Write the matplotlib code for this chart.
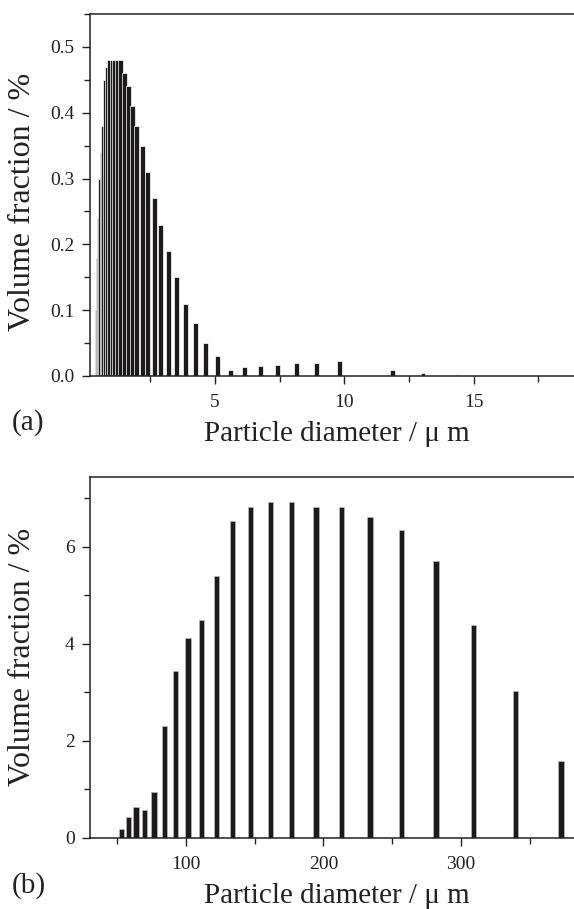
import matplotlib
matplotlib.use('Agg')
import matplotlib.pyplot as plt
from matplotlib.ticker import MultipleLocator, FormatStrFormatter

plt.rcParams['font.family'] = ['Liberation Serif', 'DejaVu Serif']

# (a) fine powder, diameter in um, volume fraction in %
d_a = [0.437, 0.481, 0.528, 0.580, 0.638, 0.701, 0.770, 0.846, 0.930, 1.022,
       1.123, 1.234, 1.356, 1.49, 1.64, 1.81, 1.98, 2.20, 2.40, 2.65,
       2.90, 3.19, 3.50, 3.85, 4.23, 4.64, 5.10, 5.60, 6.15, 6.75,
       7.42, 8.14, 8.94, 9.83, 11.87, 13.04, 14.33]
v_a = [0.10, 0.18, 0.24, 0.30, 0.34, 0.38, 0.45, 0.47, 0.48, 0.48,
       0.48, 0.48, 0.48, 0.46, 0.44, 0.41, 0.38, 0.35, 0.31, 0.27,
       0.23, 0.19, 0.15, 0.11, 0.08, 0.05, 0.03, 0.009, 0.014, 0.015,
       0.016, 0.019, 0.020, 0.023, 0.009, 0.005, 0.002]

# (b) coarse powder
d_b = [53.4, 58.5, 63.9, 70.2, 77.0, 84.5, 92.6, 101.6, 111.3, 122.5,
       134.1, 147.1, 161.4, 177.0, 194.6, 213.3, 233.8, 256.8, 281.8, 309.1,
       339.4, 372.5]
v_b = [0.19, 0.43, 0.64, 0.57, 0.94, 2.30, 3.44, 4.12, 4.50, 5.41,
       6.54, 6.83, 6.92, 6.92, 6.83, 6.83, 6.61, 6.36, 5.71, 4.39,
       3.02, 1.58]

xlabel = 'Particle diameter / \u03bc m'
ylabel = 'Volume fraction / %'

fig = plt.figure(figsize=(5.74, 9.09), dpi=100)
ax1 = fig.add_axes([0.1568, 0.5864, 0.8432, 0.3982])
ax2 = fig.add_axes([0.1568, 0.0784, 0.8432, 0.3972])

barc = '#1c1a1b'
ink = '#222222'
ax1.bar(d_a, v_a, width=0.19, color=barc, edgecolor='white', linewidth=0.5)
ax2.bar(d_b, v_b, width=3.9, color=barc, edgecolor='#bbbbbb', linewidth=0.5)

ax1.set_xlim(0.166, 18.88)
ax1.set_ylim(0, 0.55)
ax1.xaxis.set_major_locator(MultipleLocator(5))
ax1.xaxis.set_minor_locator(MultipleLocator(2.5))
ax1.yaxis.set_major_locator(MultipleLocator(0.1))
ax1.yaxis.set_minor_locator(MultipleLocator(0.05))
ax1.yaxis.set_major_formatter(FormatStrFormatter('%.1f'))

ax2.set_xlim(30.5, 382)
ax2.set_ylim(0, 7.45)
ax2.xaxis.set_major_locator(MultipleLocator(100))
ax2.xaxis.set_minor_locator(MultipleLocator(50))
ax2.yaxis.set_major_locator(MultipleLocator(2))
ax2.yaxis.set_minor_locator(MultipleLocator(1))

for ax in (ax1, ax2):
    ax.spines['right'].set_visible(False)
    for s in ['left', 'bottom', 'top']:
        ax.spines[s].set_linewidth(1.1)
        ax.spines[s].set_color(ink)
    ax.tick_params(which='major', direction='out', length=6, width=1.0,
                   labelsize=14, colors=ink, top=False, right=False)
    ax.tick_params(which='minor', direction='out', length=4, width=1.0,
                   colors=ink, top=False, right=False)
    ax.tick_params(axis='x', which='major', pad=7)
    ax.tick_params(axis='y', which='major', pad=5)
    ax.set_xlabel(xlabel, fontsize=21, color=ink, va='baseline')
    ax.set_ylabel(ylabel, fontsize=23, color=ink)
    ax.xaxis.set_label_coords(0.51, -0.18)

ax1.yaxis.set_label_coords(-0.11, 0.48)
ax2.yaxis.set_label_coords(-0.11, 0.5)

fig.text(0.021, 0.527, '(a)', fontsize=21, color=ink, va='baseline')
fig.text(0.021, 0.018, '(b)', fontsize=21, color=ink, va='baseline')

fig.savefig('out.png', dpi=100)
